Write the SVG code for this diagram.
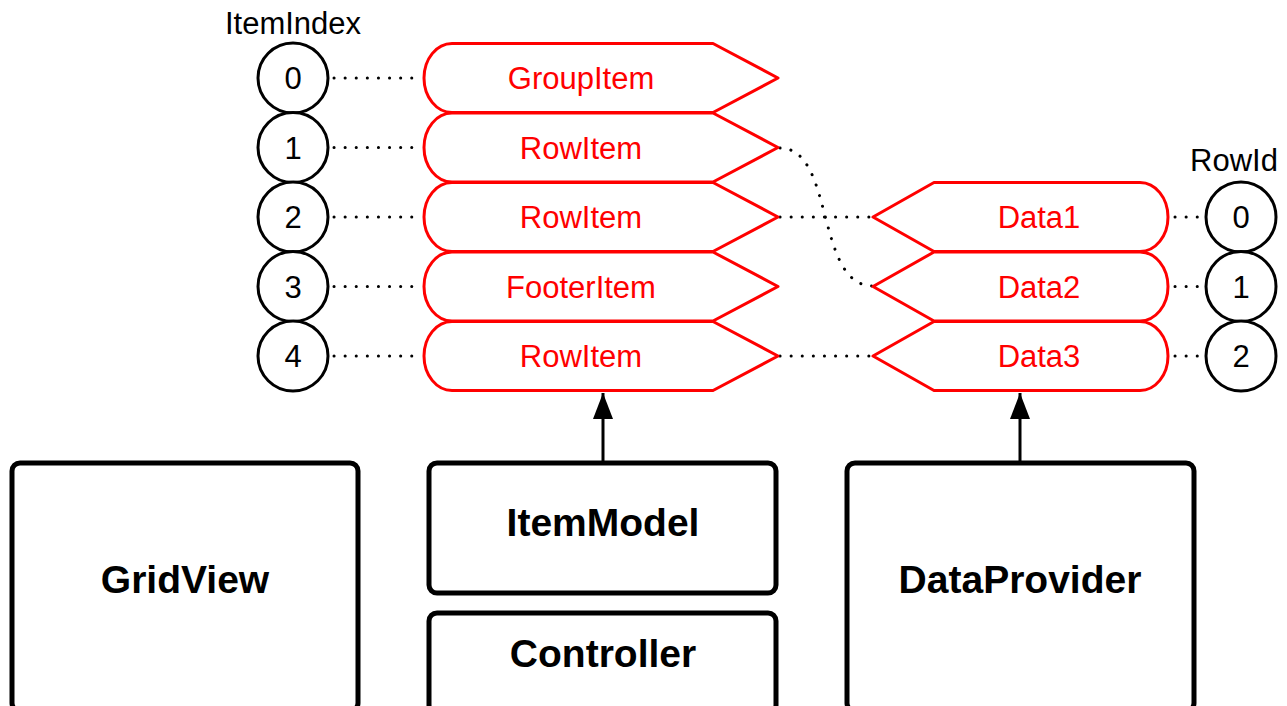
<svg xmlns="http://www.w3.org/2000/svg" width="1287" height="706" viewBox="0 0 1287 706">
  <style>
    .idx { fill: #fff; stroke: #000; stroke-width: 3; }
    .idxt { font-family: "Liberation Sans", Arial, sans-serif; font-size: 31px; fill: #000; text-anchor: middle; }
    .item { fill: #fff; stroke: #ff0000; stroke-width: 3; stroke-linejoin: round; }
    .itemt { font-family: "Liberation Sans", Arial, sans-serif; font-size: 31px; fill: #ff0000; text-anchor: middle; }
    .box { fill: #fff; stroke: #000; stroke-width: 5; }
    .boxt { font-family: "Liberation Sans", Arial, sans-serif; font-size: 39px; font-weight: bold; fill: #000; text-anchor: middle; }
    .dots { fill: none; stroke: #000; stroke-width: 3; stroke-linecap: round; stroke-dasharray: 0.1 11; }
    .arrow { fill: none; stroke: #000; stroke-width: 3; }
  </style>
  <defs>
    <marker id="tri" viewBox="0 0 26 20" refX="26" refY="10" markerWidth="26" markerHeight="20" markerUnits="userSpaceOnUse" orient="auto">
      <path d="M0,0 L26,10 L0,20 z" fill="#000"/>
    </marker>
  </defs>

  <!-- column captions -->
  <text class="idxt" x="293" y="34">ItemIndex</text>
  <text class="idxt" x="1234" y="171">RowId</text>

  <!-- connectors -->
  <g id="connectors">
    <path class="dots" d="M334,78 H418"/>
    <path class="dots" d="M334,147.5 H418"/>
    <path class="dots" d="M334,217 H418"/>
    <path class="dots" d="M334,286.5 H418"/>
    <path class="dots" d="M334,356 H418"/>
    <path class="dots" d="M780,148 C835,148 815,286 873,286"/>
    <path class="dots" d="M780,217 H873"/>
    <path class="dots" d="M780,356 H873"/>
    <path class="dots" d="M1175,217 H1203"/>
    <path class="dots" d="M1175,286.5 H1203"/>
    <path class="dots" d="M1175,356 H1203"/>
    <path class="arrow" d="M603,462 V393" marker-end="url(#tri)"/>
    <path class="arrow" d="M1020,462 V393" marker-end="url(#tri)"/>
  </g>

  <!-- ItemIndex circles -->
  <g id="index-0"><circle class="idx" cx="293" cy="78" r="35"/><text class="idxt" x="293" y="89">0</text></g>
  <g id="index-1"><circle class="idx" cx="293" cy="147.5" r="35"/><text class="idxt" x="293" y="158.5">1</text></g>
  <g id="index-2"><circle class="idx" cx="293" cy="217" r="35"/><text class="idxt" x="293" y="228">2</text></g>
  <g id="index-3"><circle class="idx" cx="293" cy="286.5" r="35"/><text class="idxt" x="293" y="297.5">3</text></g>
  <g id="index-4"><circle class="idx" cx="293" cy="356" r="35"/><text class="idxt" x="293" y="367">4</text></g>

  <!-- item model rows -->
  <g id="item-0">
    <path class="item" d="M452,43.5 H713 L778,78 L713,112.5 H452 A28,34.5 0 0 1 452,43.5 Z"/>
    <text class="itemt" x="581" y="89">GroupItem</text>
  </g>
  <g id="item-1">
    <path class="item" d="M452,113 H713 L778,147.5 L713,182 H452 A28,34.5 0 0 1 452,113 Z"/>
    <text class="itemt" x="581" y="158.5">RowItem</text>
  </g>
  <g id="item-2">
    <path class="item" d="M452,182.5 H713 L778,217 L713,251.5 H452 A28,34.5 0 0 1 452,182.5 Z"/>
    <text class="itemt" x="581" y="228">RowItem</text>
  </g>
  <g id="item-3">
    <path class="item" d="M452,252 H713 L778,286.5 L713,321 H452 A28,34.5 0 0 1 452,252 Z"/>
    <text class="itemt" x="581" y="297.5">FooterItem</text>
  </g>
  <g id="item-4">
    <path class="item" d="M452,321.5 H713 L778,356 L713,390.5 H452 A28,34.5 0 0 1 452,321.5 Z"/>
    <text class="itemt" x="581" y="367">RowItem</text>
  </g>

  <!-- data rows -->
  <g id="data-1">
    <path class="item" d="M934,182.5 H1140 A28,34.5 0 0 1 1140,251.5 H934 L873,217 Z"/>
    <text class="itemt" x="1039" y="228">Data1</text>
  </g>
  <g id="data-2">
    <path class="item" d="M934,252 H1140 A28,34.5 0 0 1 1140,321 H934 L873,286.5 Z"/>
    <text class="itemt" x="1039" y="297.5">Data2</text>
  </g>
  <g id="data-3">
    <path class="item" d="M934,321.5 H1140 A28,34.5 0 0 1 1140,390.5 H934 L873,356 Z"/>
    <text class="itemt" x="1039" y="367">Data3</text>
  </g>

  <!-- RowId circles -->
  <g id="rowid-0"><circle class="idx" cx="1241" cy="217" r="35"/><text class="idxt" x="1241" y="228">0</text></g>
  <g id="rowid-1"><circle class="idx" cx="1241" cy="286.5" r="35"/><text class="idxt" x="1241" y="297.5">1</text></g>
  <g id="rowid-2"><circle class="idx" cx="1241" cy="356" r="35"/><text class="idxt" x="1241" y="367">2</text></g>

  <!-- component boxes -->
  <g id="gridview">
    <rect class="box" x="12" y="463" width="346" height="248" rx="8"/>
    <text class="boxt" x="185" y="593">GridView</text>
  </g>
  <g id="itemmodel">
    <rect class="box" x="429" y="463" width="347" height="130" rx="8"/>
    <text class="boxt" x="603" y="536">ItemModel</text>
  </g>
  <g id="controller">
    <rect class="box" x="429" y="613" width="347" height="100" rx="8"/>
    <text class="boxt" x="603" y="667">Controller</text>
  </g>
  <g id="dataprovider">
    <rect class="box" x="847" y="463" width="347" height="248" rx="8"/>
    <text class="boxt" x="1020" y="593">DataProvider</text>
  </g>
</svg>
